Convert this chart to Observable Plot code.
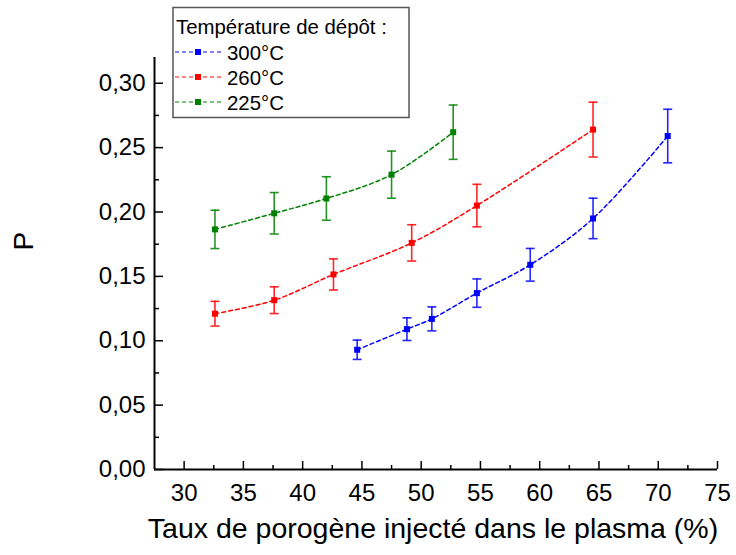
<!DOCTYPE html>
<html>
<head>
<meta charset="utf-8">
<script src="https://cdn.jsdelivr.net/npm/d3@7"></script>
<script src="https://cdn.jsdelivr.net/npm/@observablehq/plot@0.6"></script>
<style>
  html, body { margin: 0; padding: 0; background: white; }
  #chart { position: relative; width: 736px; height: 555px; }
</style>
</head>
<body>
<div id="chart"></div>
<script>
// ---- data ----
const legendTitle = "Température de dépôt :";
const temps = ["300°C", "260°C", "225°C"];
const colors = ["#0000ff", "#ff0000", "#008000"];

const x300 = [44.6, 48.8, 50.9, 54.7, 59.2, 64.5, 70.8];
const p300 = [0.093, 0.109, 0.117, 0.137, 0.159, 0.195, 0.259];
const e300 = [0.0075, 0.0088, 0.0093, 0.011, 0.0127, 0.0157, 0.0208];

const x260 = [32.6, 37.6, 42.6, 49.2, 54.7, 64.5];
const p260 = [0.121, 0.1315, 0.1515, 0.176, 0.205, 0.264];
const e260 = [0.0096, 0.0104, 0.0121, 0.0141, 0.0165, 0.0213];

const x225 = [32.6, 37.6, 42.0, 47.5, 52.7];
const p225 = [0.1865, 0.199, 0.2105, 0.229, 0.262];
const e225 = [0.0149, 0.0161, 0.0169, 0.0183, 0.0211];

const xDomain = [27.5, 75];
const yDomain = [0, 0.32];
const xTicks = [30, 35, 40, 45, 50, 55, 60, 65, 70, 75];
const xMinor = [32.5, 37.5, 42.5, 47.5, 52.5, 57.5, 62.5, 67.5, 72.5];
const yTicks = [0, 0.05, 0.10, 0.15, 0.20, 0.25, 0.30];
const yMinor = [0.025, 0.075, 0.125, 0.175, 0.225, 0.275];
const xLabel = "Taux de porogène injecté dans le plasma (%)";
const yLabel = "P";

// ---- build table ----
const seriesX = [x300, x260, x225];
const seriesP = [p300, p260, p225];
const seriesE = [e300, e260, e225];
const rows = [];
temps.forEach((t, i) => {
  seriesX[i].forEach((x, j) => {
    rows.push({ T: t, x, p: seriesP[i][j], e: seriesE[i][j] });
  });
});

const capSymbol = {
  draw(context, size) {
    const r = Math.sqrt(size / Math.PI);
    context.moveTo(-r, 0);
    context.lineTo(r, 0);
  }
};

const font = "'Liberation Sans', Arial, sans-serif";

const plot = Plot.plot({
  width: 736,
  height: 555,
  marginLeft: 154,
  marginRight: 19,
  marginTop: 57,
  marginBottom: 86,
  style: { fontFamily: font, fontSize: "24px", color: "black", background: "white" },
  x: { domain: xDomain },
  y: { domain: yDomain },
  color: { domain: temps, range: colors },
  marks: [
    // axis lines
    Plot.ruleY([yDomain[0]], { stroke: "black", strokeWidth: 2 }),
    Plot.ruleX([xDomain[0]], { stroke: "black", strokeWidth: 2 }),
    // x axis
    Plot.axisX({ ticks: xTicks, tickSize: -8, tickPadding: 22, strokeWidth: 1.5, label: null, fontSize: 24 }),
    Plot.axisX({ ticks: xMinor, tickSize: -4, strokeWidth: 1.5, fill: "none", label: null }),
    // y axis
    Plot.axisY({ ticks: yTicks, tickSize: -9, tickPadding: 18, strokeWidth: 1.5, label: null, fontSize: 24,
      tickFormat: d => d.toFixed(2).replace(".", ",") }),
    Plot.axisY({ ticks: yMinor, tickSize: -5, strokeWidth: 1.5, fill: "none", label: null }),
    // axis labels
    Plot.text([xLabel], { frameAnchor: "bottom", dx: -3, dy: 68, text: d => d, fontSize: 28.5 }),
    Plot.text([yLabel], { frameAnchor: "left", dx: -130, dy: -13, rotate: -90, text: d => d, fontSize: 28 }),
    // fitted dashed curves
    Plot.line(rows, { x: "x", y: "p", z: "T", stroke: "T", strokeWidth: 1.5,
      strokeDasharray: "4,3", curve: "catmull-rom" }),
    // error bars
    Plot.ruleX(rows, { x: "x", y1: d => d.p - d.e, y2: d => d.p + d.e, stroke: "T", strokeWidth: 1.6, strokeOpacity: 0.85 }),
    Plot.dot(rows, { x: "x", y: d => d.p - d.e, symbol: capSymbol, r: 4.5, stroke: "T", strokeWidth: 1.6, fill: "none", strokeOpacity: 0.85 }),
    Plot.dot(rows, { x: "x", y: d => d.p + d.e, symbol: capSymbol, r: 4.5, stroke: "T", strokeWidth: 1.6, fill: "none", strokeOpacity: 0.85 }),
    // markers
    Plot.dot(rows, { x: "x", y: "p", symbol: "square", r: 3.4, fill: "T", stroke: "none" })
  ]
});

document.getElementById("chart").appendChild(plot);

// ---- legend (overlay in the same svg) ----
const svg = d3.select(plot);
const lg = svg.append("g").attr("font-family", font).attr("text-anchor", "start");
lg.append("rect")
  .attr("x", 173).attr("y", 7.5).attr("width", 236).attr("height", 110)
  .attr("fill", "white").attr("stroke", "#555").attr("stroke-width", 1.5);
lg.append("text")
  .attr("x", 176).attr("y", 34).attr("font-size", 20.4).attr("fill", "black")
  .attr("text-anchor", "start")
  .text(legendTitle);
temps.forEach((t, i) => {
  const yy = 52 + i * 25;
  lg.append("line")
    .attr("x1", 175).attr("x2", 222).attr("y1", yy).attr("y2", yy)
    .attr("stroke", colors[i]).attr("stroke-width", 1.3).attr("stroke-opacity", 0.65)
    .attr("stroke-dasharray", "4,3");
  lg.append("rect")
    .attr("x", 195).attr("y", yy - 3).attr("width", 6).attr("height", 6)
    .attr("fill", colors[i]);
  lg.append("text")
    .attr("x", 227).attr("y", yy + 7.5).attr("font-size", 20.4).attr("fill", "black")
    .attr("text-anchor", "start")
    .text(t);
});
</script>
</body>
</html>
